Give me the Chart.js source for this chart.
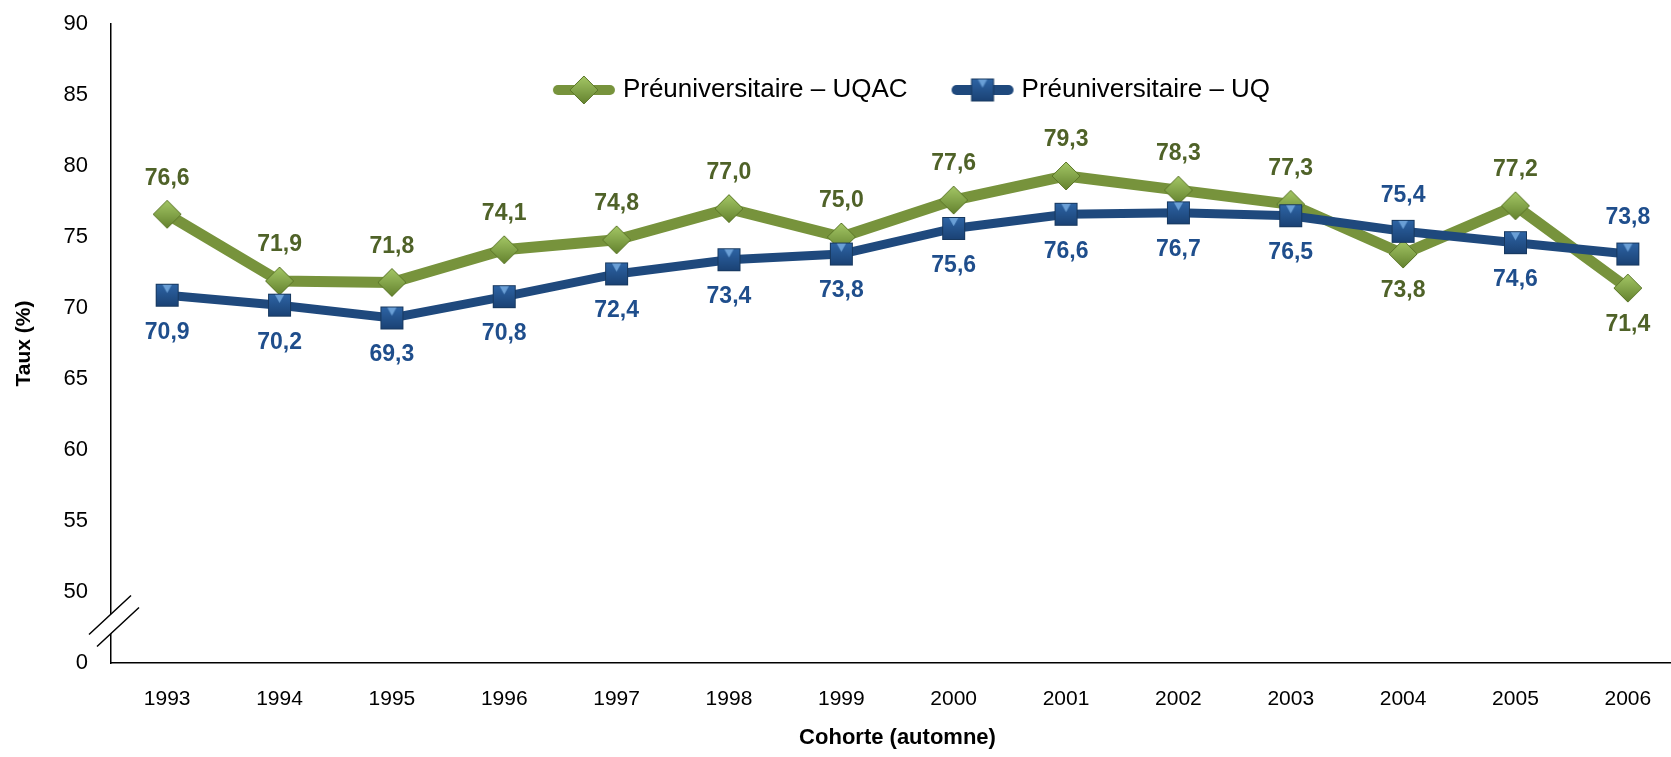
<!DOCTYPE html>
<html>
<head>
<meta charset="utf-8">
<script src="https://cdn.jsdelivr.net/npm/chart.js@4.4.1/dist/chart.umd.min.js"></script>
<style>
  html, body { margin: 0; padding: 0; background: #fff; overflow: hidden; }
  #wrap { width: 1671px; height: 757px; overflow: hidden; }
</style>
</head>
<body>
<div id="wrap"><canvas id="tauxChart" width="1699" height="757" style="width:1699px;height:757px"></canvas></div>
<script>
const cohortes = ['1993', '1994', '1995', '1996', '1997', '1998', '1999', '2000', '2001', '2002', '2003', '2004', '2005', '2006'];
const tauxUQAC = [76.6, 71.9, 71.8, 74.1, 74.8, 77.0, 75.0, 77.6, 79.3, 78.3, 77.3, 73.8, 77.2, 71.4];
const tauxUQ = [70.9, 70.2, 69.3, 70.8, 72.4, 73.4, 73.8, 75.6, 76.6, 76.7, 76.5, 75.4, 74.6, 73.8];
// labels under the point for UQAC (and above for UQ) at these indexes
const inverseIdx = [11, 13];
const yTicks = [45, 50, 55, 60, 65, 70, 75, 80, 85, 90];

const FONT = "'Liberation Sans', Arial, sans-serif";
const vert = '#77933C';
const bleu = '#1F497D';

function diamondImg(r) {
    const c = document.createElement('canvas');
    c.width = c.height = r * 2 + 4;
    const g = c.getContext('2d');
    const m = r + 2;
    const grad = g.createLinearGradient(0, 0, 0, c.height);
    grad.addColorStop(0, '#A9CC6A');
    grad.addColorStop(1, '#5F7D2A');
    g.beginPath();
    g.moveTo(m, m - r); g.lineTo(m + r, m); g.lineTo(m, m + r); g.lineTo(m - r, m); g.closePath();
    g.fillStyle = grad;
    g.fill();
    g.strokeStyle = '#5B7628';
    g.lineWidth = 1;
    g.stroke();
    return c;
}

function squareImg(s) {
    const c = document.createElement('canvas');
    c.width = c.height = s + 4;
    const g = c.getContext('2d');
    const grad = g.createLinearGradient(0, 2, 0, s + 2);
    grad.addColorStop(0, '#2E65A6');
    grad.addColorStop(1, '#1A4173');
    g.fillStyle = grad;
    g.fillRect(2, 2, s, s);
    g.fillStyle = '#6A9FD6';
    g.beginPath();
    g.moveTo(2 + s * 0.3, 3); g.lineTo(2 + s * 0.7, 3); g.lineTo(2 + s / 2, 2 + s * 0.4); g.closePath();
    g.fill();
    g.strokeStyle = '#17385F';
    g.lineWidth = 1;
    g.strokeRect(2.5, 2.5, s - 1, s - 1);
    return c;
}

function legendImg(color, marker) {
    const c = document.createElement('canvas');
    c.width = 64; c.height = 32;
    const g = c.getContext('2d');
    g.strokeStyle = color;
    g.lineWidth = 10;
    g.lineCap = 'round';
    g.beginPath();
    g.moveTo(6, 16); g.lineTo(58, 16);
    g.stroke();
    g.drawImage(marker, 32 - marker.width / 2, 16 - marker.height / 2);
    return c;
}

const ptVert = diamondImg(14);
const ptBleu = squareImg(23);

// legend drawn inside the plot area, centred, like the original
const legendeHaut = {
    id: 'legendeHaut',
    afterDatasetsDraw(chart) {
        const ctx = chart.ctx;
        const area = chart.chartArea;
        ctx.save();
        ctx.font = '26px ' + FONT;
        ctx.textBaseline = 'middle';
        ctx.fillStyle = '#000';
        const gap = 44;
        const items = chart.data.datasets.map(ds => ({ img: ds.legendImg, txt: ds.label, w: 70 + ctx.measureText(ds.label).width }));
        const total = items.reduce((s, it) => s + it.w, 0) + gap * (items.length - 1);
        let x = (area.left + area.right) / 2 + 14 - total / 2;
        const y = area.top + 66;
        items.forEach(it => {
            ctx.drawImage(it.img, x - 1, y - it.img.height / 2);
            ctx.fillText(it.txt, x + 70, y);
            x += it.w + gap;
        });
        ctx.restore();
    }
};

const axisBreak = {
    id: 'axisBreak',
    afterDraw(chart) {
        const y = chart.scales.y;
        const ctx = chart.ctx;
        const x0 = y.right;
        const yc = (y.getPixelForValue(45) + y.getPixelForValue(50)) / 2 - 10;
        ctx.save();
        ctx.fillStyle = '#fff';
        ctx.beginPath();
        ctx.moveTo(x0 - 22, yc + 17); ctx.lineTo(x0 + 20, yc - 22);
        ctx.lineTo(x0 + 28, yc - 10); ctx.lineTo(x0 - 14, yc + 29);
        ctx.closePath();
        ctx.fill();
        ctx.strokeStyle = '#000';
        ctx.lineWidth = 1.5;
        ctx.beginPath();
        ctx.moveTo(x0 - 22, yc + 17); ctx.lineTo(x0 + 20, yc - 22);
        ctx.moveTo(x0 - 14, yc + 29); ctx.lineTo(x0 + 28, yc - 10);
        ctx.stroke();
        ctx.restore();
    }
};

const valueLabels = {
    id: 'valueLabels',
    afterDatasetsDraw(chart) {
        const ctx = chart.ctx;
        ctx.save();
        ctx.font = 'bold 23px ' + FONT;
        ctx.textAlign = 'center';
        ctx.textBaseline = 'middle';
        chart.data.datasets.forEach((ds, di) => {
            const meta = chart.getDatasetMeta(di);
            ctx.fillStyle = ds.labelColor;
            meta.data.forEach((pt, i) => {
                let up = di === 0;
                if (inverseIdx.includes(i)) up = !up;
                const txt = ds.data[i].toFixed(1).replace('.', ',');
                ctx.fillText(txt, pt.x, pt.y + (up ? -36 : 37));
            });
        });
        ctx.restore();
    }
};

const ctx = document.getElementById('tauxChart').getContext('2d');
const tauxChart = new Chart(ctx, {
    type: 'line',
    data: {
        labels: cohortes,
        datasets: [
            {
                label: 'Préuniversitaire – UQAC',
                data: tauxUQAC,
                borderColor: vert,
                backgroundColor: vert,
                borderWidth: 11,
                pointStyle: ptVert,
                labelColor: '#4F6228',
                legendImg: legendImg(vert, ptVert),
                order: 1
            },
            {
                label: 'Préuniversitaire – UQ',
                data: tauxUQ,
                borderColor: bleu,
                backgroundColor: bleu,
                borderWidth: 9,
                pointStyle: ptBleu,
                labelColor: '#1F4E8C',
                legendImg: legendImg(bleu, ptBleu),
                order: 0
            }
        ]
    },
    options: {
        responsive: false,
        animation: false,
        layout: { padding: { top: 24, right: 1, left: 0, bottom: 0 } },
        plugins: {
            tooltip: { enabled: false },
            legend: { display: false }
        },
        scales: {
            x: {
                offset: true,
                grid: { display: false, drawTicks: false },
                border: { display: true, color: '#000', width: 1.5 },
                ticks: { color: '#000', padding: 24, font: { family: FONT, size: 21 } },
                title: {
                    display: true,
                    text: 'Cohorte (automne)',
                    color: '#000',
                    font: { family: FONT, size: 22, weight: 'bold' },
                    padding: { top: 2, bottom: 6 }
                },
                afterFit(s) { s.height = 94; }
            },
            y: {
                min: 45,
                max: 90,
                afterBuildTicks(s) { s.ticks = yTicks.map(v => ({ value: v })); },
                grid: { display: false, drawTicks: false },
                border: { display: true, color: '#000', width: 1.5 },
                ticks: {
                    color: '#000',
                    padding: 23,
                    font: { family: FONT, size: 22 },
                    callback: v => (v === 45 ? '0' : v)
                },
                title: {
                    display: true,
                    text: 'Taux (%)',
                    color: '#000',
                    font: { family: FONT, size: 21, weight: 'bold' },
                    padding: { top: 12, bottom: 0 }
                },
                afterFit(s) {
                    s.width = 111;
                    s.paddingTop = 0;
                    s.paddingBottom = 0;
                }
            }
        }
    },
    plugins: [axisBreak, valueLabels, legendeHaut]
});
</script>
</body>
</html>
